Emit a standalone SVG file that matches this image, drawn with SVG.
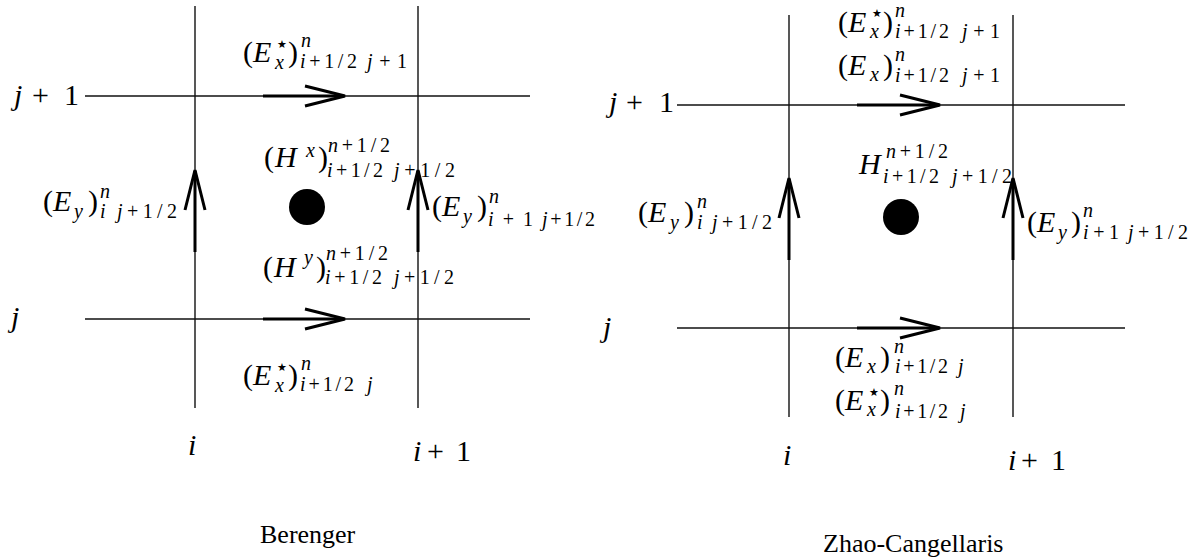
<svg xmlns="http://www.w3.org/2000/svg" width="1202" height="560" viewBox="0 0 1202 560">
<style>
.grid{stroke:#111;stroke-width:1.4;fill:none}
.shaft{stroke:#000;stroke-width:3;fill:none}
.wing{stroke:#000;stroke-width:3;fill:none;stroke-linejoin:miter}
text{font-family:"Liberation Serif","Times New Roman",serif;fill:#000}
.r{font-size:30px}
.i{font-size:30px;font-style:italic}
.s{font-size:20px}
.it{font-style:italic}
.st{font-family:"DejaVu Sans",sans-serif;font-size:11px}
.cap{font-size:26px}
.dot{fill:#000}
</style>
<defs>
<path id="ahR" class="wing" d="M-40,-10 L0,0 L-40,10"/>
<path id="ahU" class="wing" d="M-10,40 L0,0 L10,40"/>
</defs>
<rect width="1202" height="560" fill="#fff"/>

<g id="connectors">
  <line class="grid" x1="195" y1="6" x2="195" y2="408"/>
  <line class="grid" x1="418" y1="6" x2="418" y2="408"/>
  <line class="grid" x1="85" y1="96" x2="530" y2="96"/>
  <line class="grid" x1="85" y1="319" x2="530" y2="319"/>
  <line class="shaft" x1="263" y1="96" x2="344" y2="96"/><use href="#ahR" x="345" y="96"/>
  <line class="shaft" x1="263" y1="319" x2="344" y2="319"/><use href="#ahR" x="345" y="319"/>
  <line class="shaft" x1="195" y1="252" x2="195" y2="171"/><use href="#ahU" x="195" y="170"/>
  <line class="shaft" x1="418" y1="252" x2="418" y2="171"/><use href="#ahU" x="418" y="170"/>
  <line class="grid" x1="789" y1="15" x2="789" y2="417"/>
  <line class="grid" x1="1013" y1="15" x2="1013" y2="417"/>
  <line class="grid" x1="677" y1="105" x2="1125" y2="105"/>
  <line class="grid" x1="677" y1="328" x2="1125" y2="328"/>
  <line class="shaft" x1="857" y1="105" x2="939" y2="105"/><use href="#ahR" x="940" y="105"/>
  <line class="shaft" x1="857" y1="328" x2="939" y2="328"/><use href="#ahR" x="940" y="328"/>
  <line class="shaft" x1="789" y1="260" x2="789" y2="179"/><use href="#ahU" x="789" y="178"/>
  <line class="shaft" x1="1013" y1="260" x2="1013" y2="179"/><use href="#ahU" x="1013" y="178"/>
</g>

<g id="hnode-left"><circle class="dot" cx="307" cy="207" r="18"/></g>
<g id="hnode-right"><circle class="dot" cx="901" cy="217" r="18"/></g>

<g id="l-ex-top">
  <text class="r" x="243" y="62">(</text>
  <text class="i" x="253" y="62">E</text>
  <text class="st" x="277" y="48">★</text>
  <text class="s it" x="275" y="69">x</text>
  <text class="r" x="288" y="62">)</text>
  <text class="s it" x="301" y="47">n</text>
  <text class="s" x="300" y="68" textLength="57" lengthAdjust="spacing"><tspan class="it">i</tspan>+1/2</text>
  <text class="s" x="367" y="68" textLength="40" lengthAdjust="spacing"><tspan class="it">j</tspan>+1</text>
</g>
<g id="l-hx">
  <text class="r" x="264" y="167">(</text>
  <text class="i" x="275" y="167">H</text>
  <text class="s it" x="306" y="157">x</text>
  <text class="r" x="318" y="167">)</text>
  <text class="s" x="328" y="152" textLength="62" lengthAdjust="spacing"><tspan class="it">n</tspan>+1/2</text>
  <text class="s" x="327" y="177" textLength="56" lengthAdjust="spacing"><tspan class="it">i</tspan>+1/2</text>
  <text class="s" x="394" y="177" textLength="61" lengthAdjust="spacing"><tspan class="it">j</tspan>+1/2</text>
</g>
<g id="l-ey-left">
  <text class="r" x="43" y="211">(</text>
  <text class="i" x="53" y="211">E</text>
  <text class="s it" x="74" y="218">y</text>
  <text class="r" x="88" y="211">)</text>
  <text class="s it" x="100" y="198">n</text>
  <text class="s it" x="100" y="218">i</text>
  <text class="s" x="117" y="218" textLength="60" lengthAdjust="spacing"><tspan class="it">j</tspan>+1/2</text>
</g>
<g id="l-ey-right">
  <text class="r" x="432" y="216">(</text>
  <text class="i" x="442" y="216">E</text>
  <text class="s it" x="463" y="223">y</text>
  <text class="r" x="477" y="216">)</text>
  <text class="s it" x="489" y="203">n</text>
  <text class="s" x="488" y="226" textLength="45" lengthAdjust="spacing"><tspan class="it">i</tspan>+1</text>
  <text class="s" x="542" y="226" textLength="53" lengthAdjust="spacing"><tspan class="it">j</tspan>+1/2</text>
</g>
<g id="l-hy">
  <text class="r" x="263" y="277">(</text>
  <text class="i" x="274" y="277">H</text>
  <text class="s it" x="304" y="264">y</text>
  <text class="r" x="316" y="277">)</text>
  <text class="s" x="326" y="260" textLength="62" lengthAdjust="spacing"><tspan class="it">n</tspan>+1/2</text>
  <text class="s" x="325" y="284" textLength="57" lengthAdjust="spacing"><tspan class="it">i</tspan>+1/2</text>
  <text class="s" x="394" y="284" textLength="60" lengthAdjust="spacing"><tspan class="it">j</tspan>+1/2</text>
</g>
<g id="l-ex-bottom">
  <text class="r" x="243" y="385">(</text>
  <text class="i" x="253" y="385">E</text>
  <text class="st" x="277" y="371">★</text>
  <text class="s it" x="275" y="392">x</text>
  <text class="r" x="288" y="385">)</text>
  <text class="s it" x="301" y="370">n</text>
  <text class="s" x="300" y="391" textLength="54" lengthAdjust="spacing"><tspan class="it">i</tspan>+1/2</text>
  <text class="s it" x="367" y="391">j</text>
</g>
<g id="l-jp1">
  <text class="i" x="14" y="105">j</text>
  <text class="r" x="32" y="105">+</text>
  <text class="r" x="64" y="105">1</text>
</g>
<g id="l-j"><text class="i" x="11" y="327">j</text></g>
<g id="l-i"><text class="i" x="188" y="455">i</text></g>
<g id="l-ip1">
  <text class="i" x="413" y="461">i</text>
  <text class="r" x="427" y="461">+</text>
  <text class="r" x="456" y="461">1</text>
</g>
<g id="l-caption"><text class="cap" x="260" y="543">Berenger</text></g>

<g id="r-exstar-top">
  <text class="r" x="838" y="32">(</text>
  <text class="i" x="848" y="32">E</text>
  <text class="st" x="872" y="17">★</text>
  <text class="s it" x="870" y="38">x</text>
  <text class="r" x="883" y="32">)</text>
  <text class="s it" x="895" y="17">n</text>
  <text class="s" x="895" y="38" textLength="54" lengthAdjust="spacing"><tspan class="it">i</tspan>+1/2</text>
  <text class="s" x="962" y="38" textLength="38" lengthAdjust="spacing"><tspan class="it">j</tspan>+1</text>
</g>
<g id="r-ex-top">
  <text class="r" x="838" y="75">(</text>
  <text class="i" x="848" y="75">E</text>
  <text class="s it" x="870" y="81">x</text>
  <text class="r" x="883" y="75">)</text>
  <text class="s it" x="895" y="61">n</text>
  <text class="s" x="895" y="82" textLength="54" lengthAdjust="spacing"><tspan class="it">i</tspan>+1/2</text>
  <text class="s" x="962" y="82" textLength="38" lengthAdjust="spacing"><tspan class="it">j</tspan>+1</text>
</g>
<g id="r-h">
  <text class="i" x="859" y="174">H</text>
  <text class="s" x="886" y="158" textLength="62" lengthAdjust="spacing"><tspan class="it">n</tspan>+1/2</text>
  <text class="s" x="883" y="183" textLength="56" lengthAdjust="spacing"><tspan class="it">i</tspan>+1/2</text>
  <text class="s" x="952" y="183" textLength="60" lengthAdjust="spacing"><tspan class="it">j</tspan>+1/2</text>
</g>
<g id="r-ey-left">
  <text class="r" x="638" y="222">(</text>
  <text class="i" x="648" y="222">E</text>
  <text class="s it" x="670" y="229">y</text>
  <text class="r" x="684" y="222">)</text>
  <text class="s it" x="697" y="208">n</text>
  <text class="s it" x="697" y="229">i</text>
  <text class="s" x="712" y="229" textLength="60" lengthAdjust="spacing"><tspan class="it">j</tspan>+1/2</text>
</g>
<g id="r-ey-right">
  <text class="r" x="1027" y="232">(</text>
  <text class="i" x="1037" y="232">E</text>
  <text class="s it" x="1058" y="239">y</text>
  <text class="r" x="1071" y="232">)</text>
  <text class="s it" x="1083" y="217">n</text>
  <text class="s" x="1083" y="239" textLength="36" lengthAdjust="spacing"><tspan class="it">i</tspan>+1</text>
  <text class="s" x="1128" y="239" textLength="60" lengthAdjust="spacing"><tspan class="it">j</tspan>+1/2</text>
</g>
<g id="r-ex-bottom">
  <text class="r" x="835" y="367">(</text>
  <text class="i" x="845" y="367">E</text>
  <text class="s it" x="867" y="373">x</text>
  <text class="r" x="880" y="367">)</text>
  <text class="s it" x="894" y="353">n</text>
  <text class="s" x="895" y="373" textLength="53" lengthAdjust="spacing"><tspan class="it">i</tspan>+1/2</text>
  <text class="s it" x="958" y="373">j</text>
</g>
<g id="r-exstar-bottom">
  <text class="r" x="835" y="410">(</text>
  <text class="i" x="845" y="410">E</text>
  <text class="st" x="869" y="396">★</text>
  <text class="s it" x="867" y="416">x</text>
  <text class="r" x="880" y="410">)</text>
  <text class="s it" x="894" y="395">n</text>
  <text class="s" x="895" y="418" textLength="53" lengthAdjust="spacing"><tspan class="it">i</tspan>+1/2</text>
  <text class="s it" x="960" y="418">j</text>
</g>
<g id="r-jp1">
  <text class="i" x="609" y="112">j</text>
  <text class="r" x="626" y="112">+</text>
  <text class="r" x="659" y="112">1</text>
</g>
<g id="r-j"><text class="i" x="603" y="337">j</text></g>
<g id="r-i"><text class="i" x="783" y="465">i</text></g>
<g id="r-ip1">
  <text class="i" x="1008" y="470">i</text>
  <text class="r" x="1021" y="470">+</text>
  <text class="r" x="1051" y="470">1</text>
</g>
<g id="r-caption"><text class="cap" x="823" y="552">Zhao-Cangellaris</text></g>
</svg>
